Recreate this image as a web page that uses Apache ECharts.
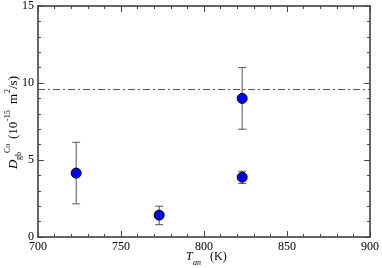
<!DOCTYPE html>
<html>
<head>
<meta charset="utf-8">
<script src="https://cdn.jsdelivr.net/npm/echarts@6/dist/echarts.min.js"></script>
<style>
html, body { margin: 0; padding: 0; background: #fff; }
#chart { width: 382px; height: 268px; }
</style>
</head>
<body>
<div id="chart"></div>
<script>
// annealing temperature (K) vs grain boundary diffusivity of Co (1e-15 m^2/s)
var temps = [723, 773, 823, 823];
var diffusivity = [4.15, 1.42, 9.0, 3.88];
var errLow = [2.15, 0.8, 7.0, 3.47];
var errHigh = [6.15, 2.0, 11.0, 4.27];
var referenceLevel = 9.62;
var xRange = [700, 900];
var yRange = [0, 15];

var serif = '"Liberation Serif", "DejaVu Serif", serif';

var chart = echarts.init(document.getElementById('chart'));

var points = temps.map(function (t, i) { return [t, diffusivity[i]]; });
var bars = temps.map(function (t, i) { return [t, errLow[i], errHigh[i]]; });

function frameAxis(pos, showLabels, interval) {
  return {
    type: 'value',
    position: pos,
    min: pos == 'left' || pos == 'right' ? yRange[0] : xRange[0],
    max: pos == 'left' || pos == 'right' ? yRange[1] : xRange[1],
    interval: interval,
    axisLine: { show: true, onZero: false, lineStyle: { color: '#333', width: 1.5 } },
    axisTick: { show: true, inside: true, length: 6, lineStyle: { color: '#444', width: 1 } },
    minorTick: { show: true, splitNumber: 5, length: 3, lineStyle: { color: '#444', width: 1 } },
    splitLine: { show: false },
    axisLabel: {
      show: showLabels, color: '#000', fontFamily: serif, fontSize: 12,
      margin: 4
    }
  };
}

var txt = function (x, y, s, font) {
  return {
    type: 'text', x: x, y: y,
    style: { text: s, font: font, fill: '#000', textAlign: 'left', align: 'left',
             textVerticalAlign: 'middle', verticalAlign: 'middle' }
  };
};

var option = {
  animation: false,
  grid: { left: 38, right: 10, top: 5, bottom: 31 },
  xAxis: [frameAxis('bottom', true, 50), frameAxis('top', false, 50)],
  yAxis: [frameAxis('left', true, 5), frameAxis('right', false, 5)],
  graphic: [
    {
      type: 'group', x: 17.5, y: 169, rotation: Math.PI / 2,
      children: [
        txt(0, -4, 'D', 'italic 13px ' + serif),
        txt(9, 1, 'gb', '8px ' + serif),
        txt(16, -10, 'Co', '8px ' + serif),
        txt(30, -4, '(10', '13px ' + serif),
        txt(48, -10, '-15', '8px ' + serif),
        txt(65, -4, 'm', '13px ' + serif),
        txt(76, -10, '2', '8px ' + serif),
        txt(80, -4, '/s)', '13px ' + serif)
      ]
    },
    txt(186, 256.5, 'T', 'italic 12px ' + serif),
    txt(193, 262.5, 'an', 'italic 8px ' + serif),
    txt(210, 256.5, '(K)', '12px ' + serif)
  ],
  series: [
    {
      type: 'custom',
      data: bars,
      silent: true,
      z: 2,
      renderItem: function (params, api) {
        var x = api.value(0);
        var lo = api.coord([x, api.value(1)]);
        var hi = api.coord([x, api.value(2)]);
        var cap = 4;
        var st = { stroke: '#555', lineWidth: 1 };
        return {
          type: 'group',
          children: [
            { type: 'line', shape: { x1: lo[0], y1: lo[1], x2: hi[0], y2: hi[1] }, style: st },
            { type: 'line', shape: { x1: lo[0] - cap, y1: lo[1], x2: lo[0] + cap, y2: lo[1] }, style: st },
            { type: 'line', shape: { x1: hi[0] - cap, y1: hi[1], x2: hi[0] + cap, y2: hi[1] }, style: st }
          ]
        };
      }
    },
    {
      type: 'scatter',
      data: points,
      symbol: 'circle',
      symbolSize: 10,
      z: 3,
      silent: true,
      itemStyle: { color: '#0000ff', borderColor: '#000', borderWidth: 1, opacity: 1 },
      markLine: {
        silent: true,
        symbol: ['none', 'none'],
        label: { show: false },
        lineStyle: { color: '#555', width: 1, type: [7, 3, 2, 3] },
        data: [{ yAxis: referenceLevel }]
      }
    }
  ]
};

chart.setOption(option);
</script>
</body>
</html>
